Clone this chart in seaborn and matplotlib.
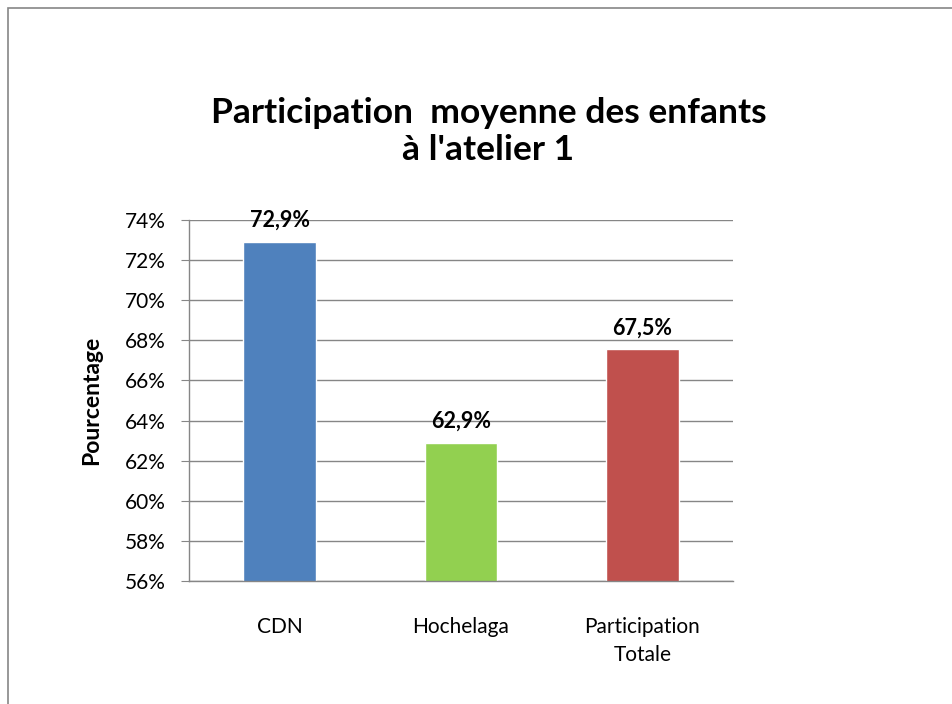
import numpy as np
import pandas as pd
import seaborn as sns
import matplotlib.pyplot as plt
from matplotlib.patches import Rectangle

categories = ['CDN', 'Hochelaga', 'Participation\nTotale']
valeurs = [72.9, 62.9, 67.55]
etiquettes = ['72,9%', '62,9%', '67,5%']
couleurs = ['#4F81BD', '#92D050', '#C0504D']
yticks = [56, 58, 60, 62, 64, 66, 68, 70, 72, 74]

sns.set_style('white')
plt.rcParams['font.family'] = ['Lato', 'DejaVu Sans']
plt.rcParams['text.color'] = 'black'
plt.rcParams['axes.labelcolor'] = 'black'
plt.rcParams['xtick.color'] = 'black'
plt.rcParams['ytick.color'] = 'black'

df = pd.DataFrame({'cat': categories, 'val': valeurs})

fig = plt.figure(figsize=(9.52, 7.04), dpi=100)
ax = fig.add_axes([0.1985, 0.1747, 0.5715, 0.5128])

sns.barplot(data=df, x='cat', y='val', hue='cat', palette=couleurs, width=0.4,
            dodge=False, legend=False, ax=ax, saturation=1)

ax.set_ylim(56, 74)
ax.set_xlim(-0.5, 2.5)
ax.set_yticks(yticks)
ax.set_yticklabels([f'{t}%' for t in yticks], fontsize=15)
ax.yaxis.grid(True, color='#868686', lw=1)
ax.set_axisbelow(True)
ax.set_xticks(range(3))
ax.set_xticklabels(categories, fontsize=15, linespacing=1.5)
ax.set_xticks([-0.5, 0.5, 1.5, 2.5], minor=True)
ax.tick_params(axis='x', which='major', length=0, pad=26)
ax.tick_params(axis='x', which='minor', length=6, color='#868686', direction='out')
ax.tick_params(axis='y', length=6, color='#868686', labelcolor='black',
               direction='out', left=True, pad=11)
for s in ['top', 'right']:
    ax.spines[s].set_visible(False)
for s in ['left', 'bottom']:
    ax.spines[s].set_color('#868686')
    ax.spines[s].set_linewidth(1)

ax.set_xlabel('')
ax.set_ylabel('Pourcentage', fontsize=16.5, fontweight='bold', labelpad=16)

for i, (v, lab) in enumerate(zip(valeurs, etiquettes)):
    ax.text(i, v + 0.55, lab, ha='center', va='bottom', fontsize=15.5,
            fontweight=700, clip_on=False)

fig.text(0.513, 0.813, "Participation  moyenne des enfants\nà l'atelier 1",
         ha='center', va='center', fontsize=25.5, fontweight='bold', linespacing=1.2)

fig.patches.append(Rectangle((8 / 952, -0.05), 1.1, 1 - 8 / 704 + 0.05,
                             transform=fig.transFigure, fill=False,
                             edgecolor='#868686', lw=1.2))

fig.savefig('out.png', dpi=100)
